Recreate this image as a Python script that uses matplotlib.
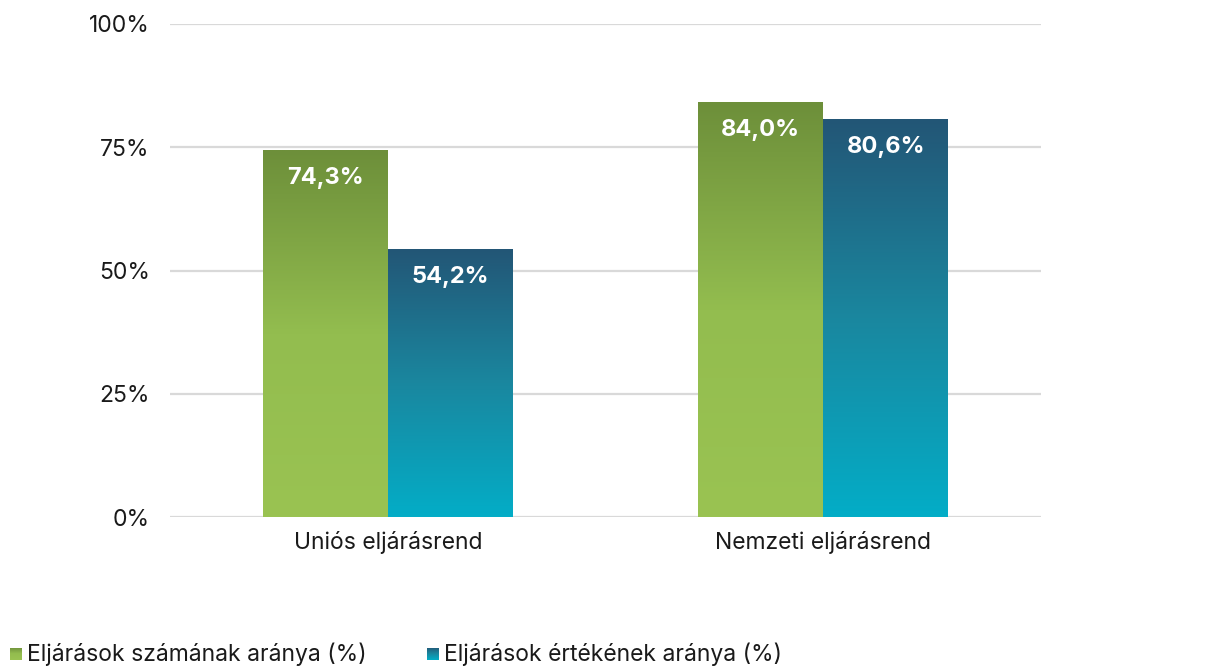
import numpy as np
import matplotlib.pyplot as plt
from matplotlib.colors import LinearSegmentedColormap

plt.rcParams['font.family'] = ['Inter', 'DejaVu Sans']

categories = ['Uniós eljárásrend', 'Nemzeti eljárásrend']
szam = [74.3, 84.0]
ertek = [54.2, 80.6]
series_names = ['Eljárások számának aránya (%)', 'Eljárások értékének aránya (%)']
yticks = [0, 25, 50, 75, 100]

green_cm = LinearSegmentedColormap.from_list('g', [(0, '#9ac352'), (0.5, '#93bd4f'), (1, '#6d8f3a')])
blue_cm = LinearSegmentedColormap.from_list('b', [(0, '#03adc7'), (0.5, '#1a879f'), (1, '#235676')])

fig = plt.figure(figsize=(12.11, 6.66), dpi=100)
ax = fig.add_axes([170/1211, 1-517/666, (1041-170)/1211, (517-24)/666])

x = np.arange(len(categories))
w = 0.287
b1 = ax.bar(x - w/2, szam, w, color='none')
b2 = ax.bar(x + w/2, ertek, w, color='none')

grad = np.linspace(0, 1, 256).reshape(-1, 1)
for bars, cm in [(b1, green_cm), (b2, blue_cm)]:
    for p in bars:
        x0, y0 = p.get_x(), p.get_y()
        ax.imshow(grad, cmap=cm, origin='lower', aspect='auto', zorder=2,
                  extent=[x0, x0 + p.get_width(), y0, y0 + p.get_height()])
        ax.text(x0 + p.get_width()/2, p.get_height() - 3.3,
                f'{p.get_height():.1f}%'.replace('.', ','),
                ha='center', va='top', color='white', fontsize=17, fontweight='bold', zorder=3)

ax.set_xlim(-0.5, 1.5)
ax.set_ylim(0, 100)
ax.set_yticks(yticks)
ax.set_yticklabels([f'{t}%' for t in yticks], fontsize=16.5, color='#1a1a1a')
ax.set_xticks(x)
ax.set_xticklabels(categories, fontsize=16.5, color='#1a1a1a')
ax.tick_params(length=0, axis='y', pad=14.5)
ax.tick_params(length=0, axis='x', pad=10)
ax.grid(axis='y', color='#d9d9d9', linewidth=1.6, zorder=0)
ax.set_axisbelow(True)
for s in ax.spines.values():
    s.set_visible(False)

# legend with gradient squares
for i, (name, cm) in enumerate(zip(series_names, [green_cm, blue_cm])):
    lx = [10, 427][i]
    sq = fig.add_axes([lx/1211, 1-660/666, 12/1211, 12/666])
    sq.imshow(grad, cmap=cm, origin='lower', aspect='auto')
    sq.axis('off')
    fig.text((lx + 17)/1211, 1-654/666, name, fontsize=16.5, color='#1a1a1a', va='center', ha='left')

fig.savefig('out.png', dpi=100)
